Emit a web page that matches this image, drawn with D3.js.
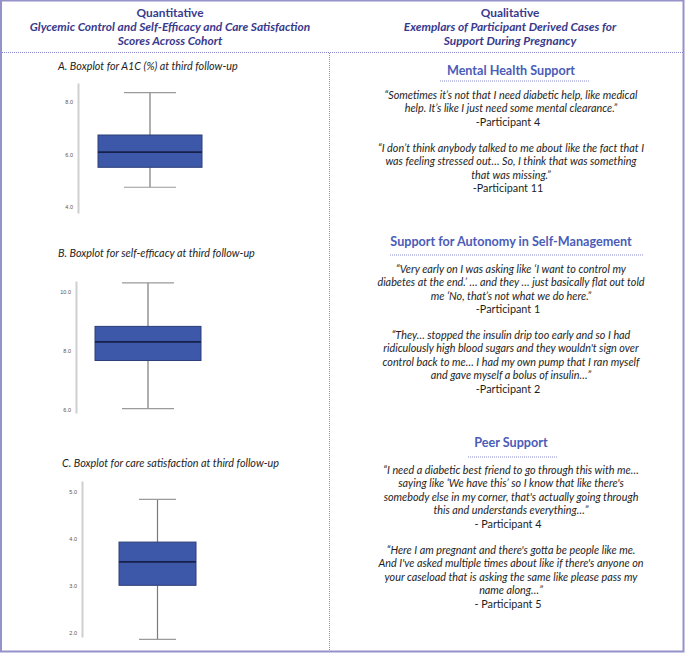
<!DOCTYPE html>
<html>
<head>
<meta charset="utf-8">
<script src="https://cdn.jsdelivr.net/npm/d3@7"></script>
<style>
  html, body { margin: 0; padding: 0; background: #fff; }
  svg { display: block; font-family: Lato, "Open Sans", sans-serif; }
</style>
</head>
<body>
<div id="chart"></div>
<script>
// Quantitative boxplots + qualitative quotes panel

// ---- Data ----
const panelTitles = [
  "A. Boxplot for A1C (%) at third follow-up",
  "B. Boxplot for self-efficacy at third follow-up",
  "C. Boxplot for care satisfaction at third follow-up"
];
const whiskerLow  = [4.75, 6.05, 1.85];
const q1          = [5.51, 7.67, 3.00];
const medians     = [6.09, 8.30, 3.50];
const q3          = [6.74, 8.82, 3.92];
const whiskerHigh = [8.35, 10.29, 4.83];
const axisDomains = [[3.77, 8.72], [5.9, 10.35], [1.9, 5.22]];
const tickValues  = [[4, 6, 8], [6, 8, 10], [2, 3, 4, 5]];

const leftHeader  = ["Quantitative", "Glycemic Control and Self-Efficacy and Care Satisfaction", "Scores Across Cohort"];
const rightHeader = ["Qualitative", "Exemplars of Participant Derived Cases for", "Support During Pregnancy"];

const themes = ["Mental Health Support", "Support for Autonomy in Self-Management", "Peer Support"];
const quotes = [
  [
    { lines: ["\u201cSometimes it\u2019s not that I need diabetic help, like medical", "help. It\u2019s like I just need some mental clearance.\u201d"], who: "-Participant 4" },
    { lines: ["\u201cI don\u2019t think anybody talked to me about like the fact that I", "was feeling stressed out\u2026 So, I think that was something", "that was missing.\u201d"], who: "-Participant 11" }
  ],
  [
    { lines: ["\u201cVery early on I was asking like \u2018I want to control my", "diabetes at the end.\u2019 \u2026 and they \u2026 just basically flat out told", "me \u2018No, that\u2019s not what we do here.\u201d"], who: "-Participant 1" },
    { lines: ["\u201cThey\u2026 stopped the insulin drip too early and so I had", "ridiculously high blood sugars and they wouldn't sign over", "control back to me\u2026 I had my own pump that I ran myself", "and gave myself a bolus of insulin\u2026\u201d"], who: "-Participant 2" }
  ],
  [
    { lines: ["\u201cI need a diabetic best friend to go through this with me\u2026", "saying like \u2018We have this\u2019 so I know that like there's", "somebody else in my corner, that's actually going through", "this and understands everything\u2026\u201d"], who: "- Participant 4" },
    { lines: ["\u201cHere I am pregnant and there's gotta be people like me.", "And I've asked multiple times about like if there's anyone on", "your caseload that is asking the same like please pass my", "name along\u2026\u201d"], who: "- Participant 5" }
  ]
];

// ---- Layout ----
const W = 685, H = 654;
const FRAME = "#9592c9";
const DOTTED = "#8a8ad0";
const HEAD = "#3a3a8c";
const THEME = "#4a5cb8";

// per panel layout: title pos, axis x, pixel range of axis, box x extent, cap x extent
const boxLayout = [
  { tx: 58, ty: 70,  ax: 78, y0: 213, y1: 83,  bx0: 98,  bx1: 202, c0: 124, c1: 176 },
  { tx: 58, ty: 257, ax: 76, y0: 413, y1: 281, bx0: 95,  bx1: 201, c0: 122, c1: 174 },
  { tx: 62, ty: 467, ax: 82, y0: 637, y1: 481, bx0: 119, bx1: 196, c0: 139, c1: 176 }
];
const themeLayout = [
  { hy: 75,  ly: 81,  lx0: 440, lx1: 590, qy: [99, 152] },
  { hy: 246, ly: 255, lx0: 390, lx1: 643, qy: [273, 339] },
  { hy: 447, ly: 457, lx0: 468, lx1: 558, qy: [474, 554] }
];
const LINE_H = 13.4;
const RX = 511;

const svg = d3.select("#chart").append("svg").attr("width", W).attr("height", H);

// frame + dividers
svg.append("rect").attr("x", 1).attr("y", 0.5).attr("width", 682.5).attr("height", 651)
  .attr("fill", "none").attr("stroke", FRAME).attr("stroke-width", 2);
svg.append("line").attr("x1", 2).attr("x2", 683).attr("y1", 52.5).attr("y2", 52.5)
  .attr("stroke", DOTTED).attr("stroke-width", 1).attr("stroke-dasharray", "1,1");
svg.append("line").attr("x1", 329.5).attr("x2", 329.5).attr("y1", 53).attr("y2", 651)
  .attr("stroke", DOTTED).attr("stroke-width", 1).attr("stroke-dasharray", "1,1");

// headers
function header(lines, cx) {
  const t = svg.append("text").attr("text-anchor", "middle").attr("fill", HEAD)
    .attr("font-weight", 700).attr("font-size", 11.9);
  lines.forEach((s, i) => {
    t.append("tspan").attr("x", cx).attr("y", 17 + i * 14)
      .attr("font-style", i === 0 ? "normal" : "italic").text(s);
  });
}
header(leftHeader, 170);
header(rightHeader, 510);

// boxplots
panelTitles.forEach((title, i) => {
  const L = boxLayout[i];
  svg.append("text").attr("x", L.tx).attr("y", L.ty)
    .attr("font-size", 10.8).attr("font-style", "italic").attr("fill", "#1e1e1e").text(title);

  const y = d3.scaleLinear().domain(axisDomains[i]).range([L.y0, L.y1]);
  const g = svg.append("g");

  const ax = g.append("g").attr("transform", `translate(${L.ax},0)`)
    .call(d3.axisLeft(y).tickValues(tickValues[i]).tickSize(0).tickPadding(5).tickFormat(d3.format(".1f")));
  ax.select(".domain").attr("stroke", "#cfcfcf").attr("stroke-width", 2);
  ax.selectAll("text").attr("font-size", 5.5).attr("fill", "#555").attr("font-family", "Liberation Sans, Arial, sans-serif");

  const cx = (L.bx0 + L.bx1) / 2;
  // whiskers
  g.append("line").attr("x1", cx).attr("x2", cx).attr("y1", y(whiskerHigh[i])).attr("y2", y(q3[i]))
    .attr("stroke", "#7a7a7a").attr("stroke-width", 1.2);
  g.append("line").attr("x1", cx).attr("x2", cx).attr("y1", y(q1[i])).attr("y2", y(whiskerLow[i]))
    .attr("stroke", "#7a7a7a").attr("stroke-width", 1.2);
  [whiskerHigh[i], whiskerLow[i]].forEach(v => {
    g.append("line").attr("x1", L.c0).attr("x2", L.c1).attr("y1", y(v)).attr("y2", y(v))
      .attr("stroke", "#9a9a9a").attr("stroke-width", 1.2);
  });
  // box
  g.append("rect").attr("x", L.bx0).attr("width", L.bx1 - L.bx0)
    .attr("y", y(q3[i])).attr("height", y(q1[i]) - y(q3[i]))
    .attr("fill", "#3d58a8").attr("stroke", "#2d3f78").attr("stroke-width", 1);
  g.append("line").attr("x1", L.bx0).attr("x2", L.bx1).attr("y1", y(medians[i])).attr("y2", y(medians[i]))
    .attr("stroke", "#17204a").attr("stroke-width", 1.8);
});

// qualitative themes
themes.forEach((name, i) => {
  const L = themeLayout[i];
  svg.append("text").attr("x", RX).attr("y", L.hy).attr("text-anchor", "middle")
    .attr("font-size", 12.6).attr("font-weight", 700).attr("fill", THEME).text(name);
  svg.append("line").attr("x1", L.lx0).attr("x2", L.lx1).attr("y1", L.ly).attr("y2", L.ly)
    .attr("stroke", DOTTED).attr("stroke-width", 1).attr("stroke-dasharray", "1,1");

  quotes[i].forEach((q, j) => {
    const t = svg.append("text").attr("text-anchor", "middle").attr("font-size", 10.8).attr("fill", "#1e1e1e");
    q.lines.forEach((s, k) => {
      t.append("tspan").attr("x", RX).attr("y", L.qy[j] + k * LINE_H).attr("font-style", "italic").text(s);
    });
    t.append("tspan").attr("x", RX - 3).attr("y", L.qy[j] + q.lines.length * LINE_H).text(q.who);
  });
});
</script>
</body>
</html>
